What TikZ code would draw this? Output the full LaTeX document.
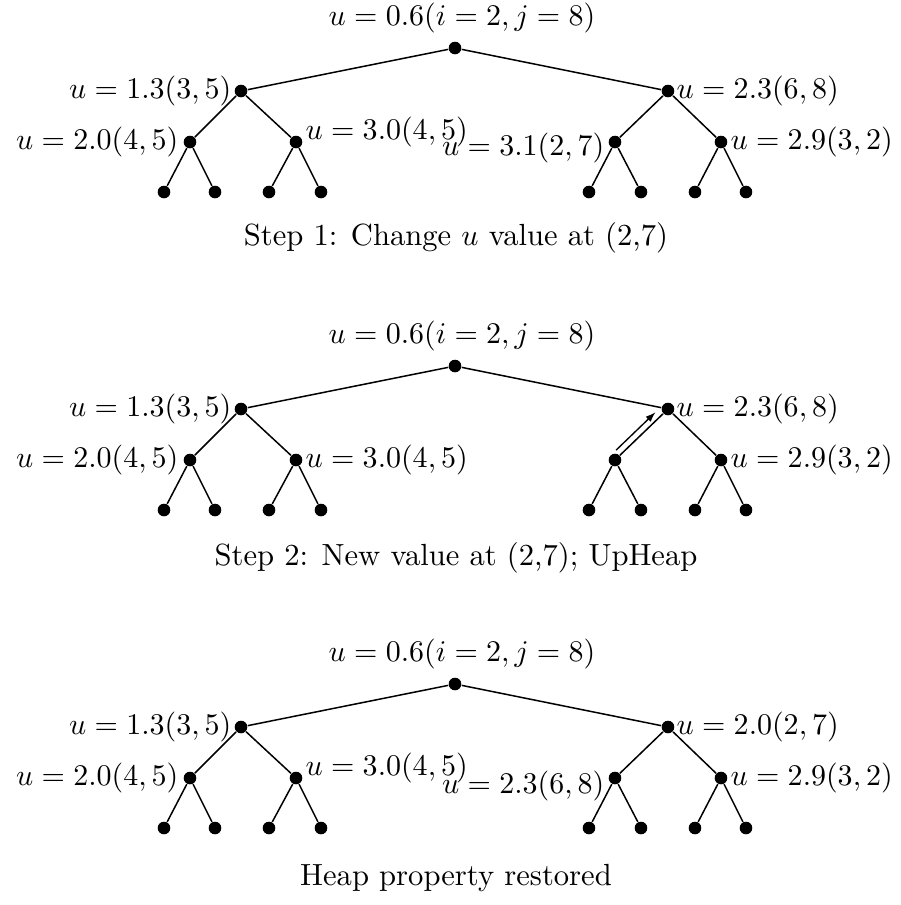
\documentclass[tikz,border=0pt]{standalone}
\usetikzlibrary{calc,arrows.meta}
\tikzset{
  dot/.style={circle,fill=black,inner sep=0pt,minimum size=4.2pt},
  edgeline/.style={line width=0.5pt},
  lab/.style={inner sep=0pt,font=\fontsize{10.2}{12}\selectfont},
  captxt/.style={inner sep=0pt,font=\fontsize{10.2}{12}\selectfont},
  movearrow/.style={line width=0.45pt,-{Latex[length=3.4pt,width=2.4pt]}}
}
\newcommand{\heaptree}[1]{%
  \node[dot] (#1R)  at (455,48)  {};
  \node[dot] (#1A)  at (241,91)  {};
  \node[dot] (#1B)  at (668,91)  {};
  \node[dot] (#1AA) at (190,142) {};
  \node[dot] (#1AB) at (296,142) {};
  \node[dot] (#1BA) at (615,142) {};
  \node[dot] (#1BB) at (721,142) {};
  \node[dot] (#1AAa) at (164,192) {};
  \node[dot] (#1AAb) at (215,192) {};
  \node[dot] (#1ABa) at (269,192) {};
  \node[dot] (#1ABb) at (321,192) {};
  \node[dot] (#1BAa) at (589,192) {};
  \node[dot] (#1BAb) at (641,192) {};
  \node[dot] (#1BBa) at (695,192) {};
  \node[dot] (#1BBb) at (746,192) {};
  \draw[edgeline] (#1R) -- (#1A);
  \draw[edgeline] (#1R) -- (#1B);
  \draw[edgeline] (#1A) -- (#1AA);
  \draw[edgeline] (#1A) -- (#1AB);
  \draw[edgeline] (#1B) -- (#1BA);
  \draw[edgeline] (#1B) -- (#1BB);
  \draw[edgeline] (#1AA) -- (#1AAa);
  \draw[edgeline] (#1AA) -- (#1AAb);
  \draw[edgeline] (#1AB) -- (#1ABa);
  \draw[edgeline] (#1AB) -- (#1ABb);
  \draw[edgeline] (#1BA) -- (#1BAa);
  \draw[edgeline] (#1BA) -- (#1BAb);
  \draw[edgeline] (#1BB) -- (#1BBa);
  \draw[edgeline] (#1BB) -- (#1BBb);
  \node[lab] (#1Rl) at (462,18) {$u=0.6(i=2,j=8)$};
}
\begin{document}
\begin{tikzpicture}[x=0.33333pt,y=-0.33333pt]
\useasboundingbox (0,0) rectangle (901,905);

% Tree 1
\begin{scope}
  \heaptree{a}
  \node[lab,anchor=east] (aAl)  at (232,91)  {$u=1.3(3,5)$};
  \node[lab,anchor=east] (aAAl) at (179,142) {$u=2.0(4,5)$};
  \node[lab,anchor=west] (aABl) at (305,132) {$u=3.0(4,5)$};
  \node[lab,anchor=east] (aBAl) at (605,148) {$u=3.1(2,7)$};
  \node[lab,anchor=west] (aBl)  at (676,91)  {$u=2.3(6,8)$};
  \node[lab,anchor=west] (aBBl) at (730,142) {$u=2.9(3,2)$};
  \node[captxt] (acap) at (456,238) {Step 1: Change $u$ value at (2,7)};
\end{scope}

% Tree 2
\begin{scope}[shift={(0,318)}]
  \heaptree{b}
  \node[lab,anchor=east] (bAl)  at (232,91)  {$u=1.3(3,5)$};
  \node[lab,anchor=east] (bAAl) at (179,142) {$u=2.0(4,5)$};
  \node[lab,anchor=west] (bABl) at (305,142) {$u=3.0(4,5)$};
  \node[lab,anchor=west] (bBl)  at (676,91)  {$u=2.3(6,8)$};
  \node[lab,anchor=west] (bBBl) at (730,142) {$u=2.9(3,2)$};
  \node[captxt] (bcap) at (456,240) {Step 2: New value at (2,7); UpHeap};
\end{scope}
\draw[movearrow] ($(bBA)!0.105!(bB)+(-4.5,-4.5)$) -- ($(bBA)!0.85!(bB)+(-4.5,-4.5)$);

% Tree 3
\begin{scope}[shift={(0,636)}]
  \heaptree{c}
  \node[lab,anchor=east] (cAl)  at (232,91)  {$u=1.3(3,5)$};
  \node[lab,anchor=east] (cAAl) at (179,142) {$u=2.0(4,5)$};
  \node[lab,anchor=west] (cABl) at (305,132) {$u=3.0(4,5)$};
  \node[lab,anchor=east] (cBAl) at (605,150) {$u=2.3(6,8)$};
  \node[lab,anchor=west] (cBl)  at (676,91)  {$u=2.0(2,7)$};
  \node[lab,anchor=west] (cBBl) at (730,142) {$u=2.9(3,2)$};
  \node[captxt] (ccap) at (456,242) {Heap property restored};
\end{scope}
\end{tikzpicture}
\end{document}
